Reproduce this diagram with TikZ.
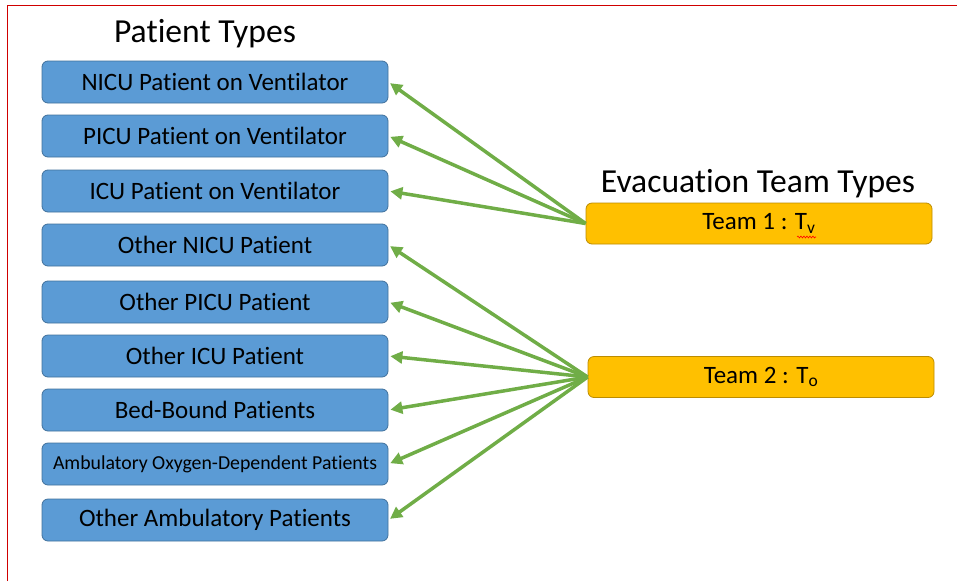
\documentclass[tikz,border=0pt]{standalone}
\usepackage{fontspec}
\setmainfont{Carlito}[RawFeature={-liga;-clig;-calt;-rlig}]
\usetikzlibrary{arrows.meta,decorations.pathmorphing}
\definecolor{patblue}{HTML}{5B9BD5}
\definecolor{patedge}{HTML}{41719C}
\definecolor{teamgold}{HTML}{FFC000}
\definecolor{teamedge}{HTML}{BC8C00}
\definecolor{linkgreen}{HTML}{70AD47}
\definecolor{framered}{HTML}{D00000}
\begin{document}
\begin{tikzpicture}[x=1pt,y=-1pt,
  patient/.style={draw=patedge, fill=patblue, rounded corners=6pt,
    minimum width=346pt, minimum height=42pt, inner sep=0pt,
    line width=0.8pt, font=\fontsize{25}{29}\selectfont},
  team/.style={draw=teamedge, fill=teamgold, rounded corners=6pt,
    minimum width=346pt, minimum height=41pt, inner sep=0pt,
    line width=0.8pt, font=\fontsize{25}{29}\selectfont},
  heading/.style={inner sep=0pt, anchor=base, font=\fontsize{33.6}{38}\selectfont},
  link/.style={draw=linkgreen, line width=3.5pt,
    -{Triangle[length=12pt,width=12pt]}, shorten >=2pt}
]
\useasboundingbox (0,0) rectangle (957,581);

% page frame
\draw[framered, line width=1pt] (7.5,581) -- (7.5,5.5) -- (957,5.5);

% headings
\node[heading] (pt) at (205,42) {Patient Types};
\node[heading] (et) at (758,192) {Evacuation Team Types};

% patient types
\node[patient] (p1) at (215,82)  {NICU Patient on Ventilator};
\node[patient] (p2) at (215,136) {PICU Patient on Ventilator};
\node[patient] (p3) at (215,191) {ICU Patient on Ventilator};
\node[patient] (p4) at (215,245) {Other NICU Patient};
\node[patient] (p5) at (215,302) {Other PICU Patient};
\node[patient] (p6) at (215,356) {Other ICU Patient};
\node[patient] (p7) at (215,410) {Bed-Bound Patients};
\node[patient, font=\fontsize{19.8}{23}\selectfont] (p8) at (215,464) {Ambulatory Oxygen-Dependent Patients};
\node[patient] (p9) at (215,520) {Other Ambulatory Patients};

% evacuation teams
\node[team] (t1) at (759,223.5) {Team 1 : T\textsubscript{v}};
\node[team] (t2) at (761,377) {Team 2 : T\textsubscript{o}};

% spell-check squiggle under the subscripted name
\draw[red, line width=0.6pt, decorate,
  decoration={snake, amplitude=0.9pt, segment length=3pt}]
  (797,237) -- (816,237);

% team 1 serves ventilated patients
\foreach \p in {p1,p2,p3}
  \draw[link] (t1.west) -- (\p.east);

% team 2 serves all other patients
\foreach \p in {p4,p5,p6,p7,p8,p9}
  \draw[link] (t2.west) -- (\p.east);
\end{tikzpicture}
\end{document}
